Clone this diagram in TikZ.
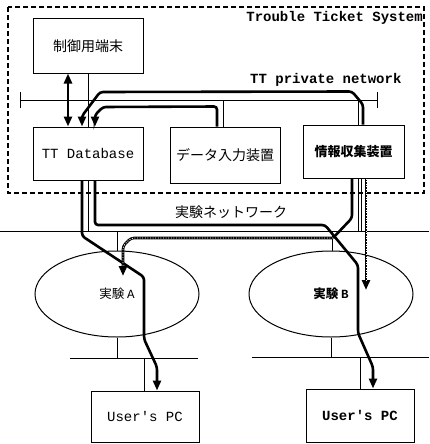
\documentclass[tikz,border=0pt]{standalone}
\usepackage{fontspec}
\setmonofont{Liberation Mono}
\newfontfamily\jp{Noto Sans CJK JP}
\usetikzlibrary{arrows.meta,shapes.geometric}

\begin{document}
\begin{tikzpicture}[
  x=1pt, y=-1pt,
  unit/.style={draw, line width=1pt, inner sep=0pt, font=\jp\fontsize{14}{16}\selectfont},
  pcbox/.style={draw, line width=1pt, minimum width=108pt, inner sep=0pt, font=\ttfamily\fontsize{14}{16}\selectfont},
  seg/.style={draw, ellipse, line width=1pt, minimum width=164pt, minimum height=86pt, inner sep=0pt, font=\jp\fontsize{12.5}{14}\selectfont},
  link/.style={line width=0.8pt},
  bus/.style={line width=1pt},
  flow/.style={-{Triangle[length=10pt,width=8pt]}, line width=2.6pt, rounded corners=3pt},
  dflow/.style={flow, postaction={draw, -, white, line width=0.9pt, dash pattern=on 1pt off 1.6pt, shorten >=9pt}},
  tag/.style={font=\ttfamily\bfseries\fontsize{14}{16}\selectfont, inner sep=0pt}
]
\useasboundingbox (0,0) rectangle (429,444);
% Trouble Ticket System
\draw[line width=1.2pt, dash pattern=on 5pt off 3pt] (8,7) rectangle (424,193);
\node[tag, anchor=east] (tts) at (423,18) {Trouble Ticket System};
\node[unit, minimum width=110pt, minimum height=54pt] (term) at (88,46) {制御用端末};
\node[unit, minimum width=110pt, minimum height=53pt, font=\ttfamily\fontsize{14}{16}\selectfont] (db) at (88,153.5) {TT Database};
\node[unit, minimum width=110pt, minimum height=56pt] (input) at (225,155) {データ入力装置};
\node[unit, minimum width=101pt, minimum height=53pt, font=\jp\bfseries\fontsize{13}{15}\selectfont] (info) at (353.5,151.5) {情報収集装置};
% TT private network
\coordinate (tpL) at (20,100);
\coordinate (tpR) at (378,100);
\draw[link, {Bar[width=16pt]}-{Bar[width=16pt]}] (tpL) -- (tpR);
\node[tag, anchor=west] (tpn) at (250,80) {TT private network};
\draw[link] (term.south) -- (db.north);
\draw[link] ([xshift=-2pt]input.north) -- ([xshift=-2pt]input.north |- tpL);
\draw[link] ([xshift=4.5pt]info.north) -- ([xshift=4.5pt]info.north |- tpL);
% experiment network
\coordinate (expL) at (0,231);
\coordinate (expR) at (429,231);
\draw[bus] (expL) -- (expR);
\node[font=\jp\fontsize{14}{16}\selectfont, inner sep=0pt] (expn) at (231,212) {実験ネットワーク};
\node[seg] (segA) at (117,294) {実験\ {\ttfamily A}};
\node[seg, font=\jp\bfseries\fontsize{12.5}{14}\selectfont] (segB) at (331,294) {実験\ {\ttfamily B}};
\coordinate (netAL) at (70,358);
\coordinate (netAR) at (198,358);
\coordinate (netBL) at (252,357);
\coordinate (netBR) at (429,357);
\draw[bus] (netAL) -- (netAR);
\draw[bus] (netBL) -- (netBR);
\node[pcbox, minimum height=51pt] (pcA) at (145,416.5) {User's PC};
\node[pcbox, minimum height=53pt, font=\ttfamily\bfseries\fontsize{14}{16}\selectfont] (pcB) at (360,415.5) {User's PC};
\draw[link] (db.south) -- (db.south |- expL);
\draw[link] ([xshift=4.5pt]info.south) -- ([xshift=4.5pt]info.south |- expL);
\draw[link] ([xshift=7.5pt]info.south) -- ([xshift=7.5pt]info.south |- expL);
\draw[link] (segA.north) -- (segA.north |- expL);
\draw[link] (segA.south) -- (segA.south |- netAL);
\draw[link] ([xshift=1pt]segB.north) -- ([xshift=1pt]segB.north |- expL);
\draw[link] (segB.south) -- (segB.south |- netBL);
\draw[link] ([xshift=-1pt]pcA.north) -- ([xshift=-1pt]pcA.north |- netAL);
\draw[link] (pcB.north) -- (pcB.north |- netBL);
% thick flows
\draw[flow, {Triangle[length=10pt,width=8pt]}-{Triangle[length=10pt,width=8pt]}] ([xshift=-20pt]term.south) -- ([xshift=-20pt]db.north);
\draw[flow] ([xshift=9.5pt]info.north) -- ++(0,-20) -- ++(-11,-13) -- (100,92) -- (82,116) -- ([xshift=-6pt]db.north);
\draw[flow] ([xshift=-8pt]input.north) -- ++(0,-20) -- (103,107) -- (95,115) -- ([xshift=7pt]db.north);
\draw[flow] ([xshift=-6pt]db.south) -- (82,236) -- (144,277) -- (144,339) -- (157,367) -- ([xshift=12pt]pcA.north);
\draw[flow] ([xshift=7pt]db.south) -- (95,225) -- (325,225) -- (358,265) -- (358,333) -- (373,367) -- ([xshift=13pt]pcB.north);
\coordinate (cross) at (333,238);
\draw[flow, -] ([xshift=-1.5pt]info.south) -- (352,218) -- (cross);
\draw[dflow] (cross) -- (131,238) -- (123,246) -- ([shift={(6,-18)}]segA.center);
\draw[dflow] ([xshift=12.5pt]info.south) -- ([shift={(35,-4)}]segB.center);
\end{tikzpicture}
\end{document}
